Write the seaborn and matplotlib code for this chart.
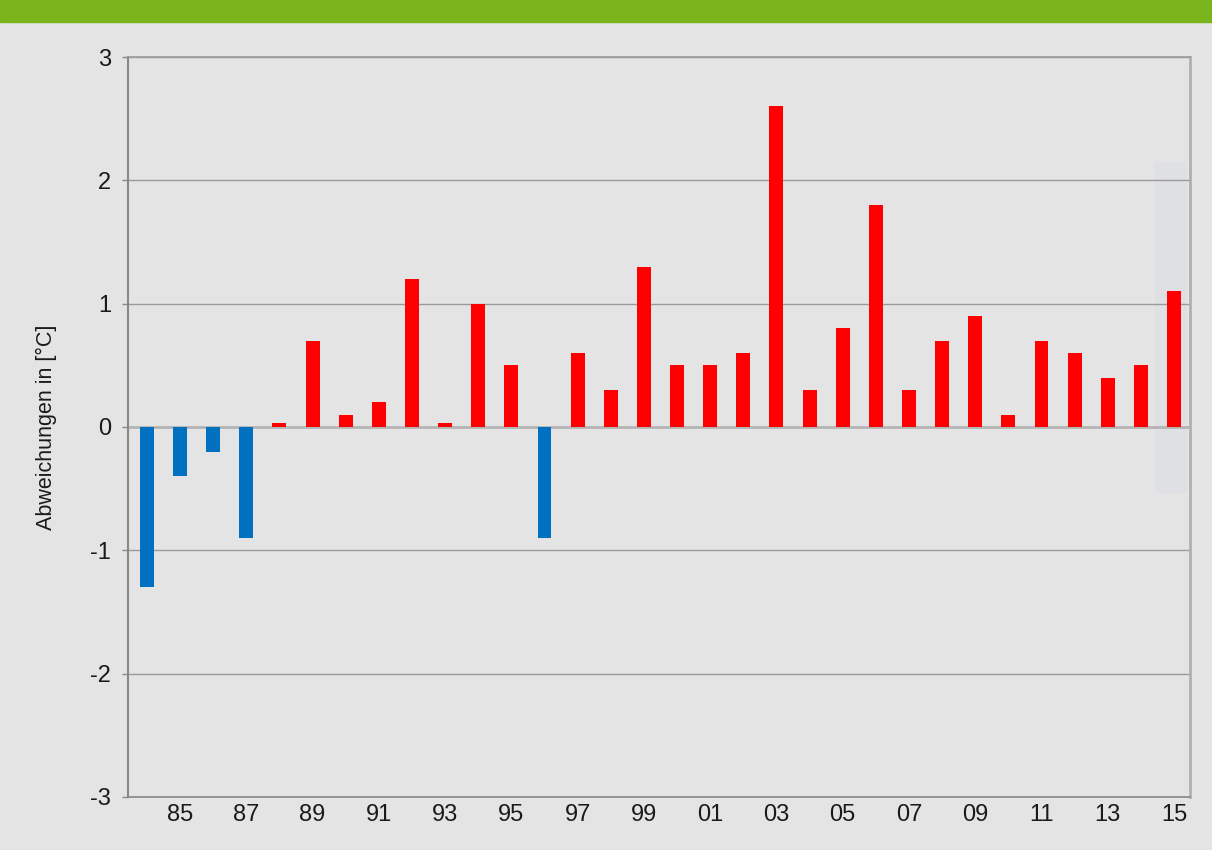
import matplotlib
matplotlib.use("Agg")
import matplotlib.pyplot as plt
from matplotlib.patches import Rectangle
import numpy as np
import pandas as pd
import seaborn as sns

# Jährliche Temperaturabweichungen 1984-2015
jahre = list(range(1984, 2016))
abweichungen = [-1.3, -0.4, -0.2, -0.9, 0.03, 0.7, 0.1, 0.2, 1.2, 0.03,
                1.0, 0.5, -0.9, 0.6, 0.3, 1.3, 0.5, 0.5, 0.6, 2.6,
                0.3, 0.8, 1.8, 0.3, 0.7, 0.9, 0.1, 0.7, 0.6, 0.4,
                0.5, 1.1]
y_ticks = [-3, -2, -1, 0, 1, 2, 3]

df = pd.DataFrame({
    "jahr": [f"{j % 100:02d}" for j in jahre],
    "wert": abweichungen,
})
df["vorzeichen"] = np.where(df["wert"] < 0, "kalt", "warm")

sns.set_style("white")
plt.rcParams["font.family"] = ["Liberation Sans", "DejaVu Sans"]

bg = "#e3e4e3"
fig = plt.figure(figsize=(12.12, 8.5), dpi=100, facecolor=bg)
ax = fig.add_axes([0.1056, 0.0624, 0.8762, 0.8705])
ax.set_facecolor(bg)

# grüner Balken am oberen Rand
fig.patches.append(Rectangle((0, 1 - 22 / 850), 1, 22 / 850,
                             transform=fig.transFigure, color="#7ab51d",
                             zorder=0))

# dezente Hervorhebung des letzten Jahres
ax.add_patch(Rectangle((30.43, -0.535), 0.96, 2.685, facecolor="#dfe0e3",
                       edgecolor="none", zorder=0.5))

for t in y_ticks:
    if t != 0:
        ax.axhline(t, color="#9a9a9a", lw=1.0, zorder=1)
ax.axhline(0, color="#b4b4b4", lw=2.0, zorder=1)

sns.barplot(data=df, x="jahr", y="wert", hue="vorzeichen",
            palette={"kalt": "#0070c0", "warm": "#ff0000"},
            dodge=False, width=0.42, legend=False, ax=ax, zorder=2,
            saturation=1, linewidth=0, edgecolor="none")

ax.set_xlim(-0.57, 31.48)
ax.set_ylim(-3, 3)
ax.set_yticks(y_ticks)
ax.set_yticklabels([str(t) for t in y_ticks], fontsize=17, color="#1a1a1a")
odd = list(range(1, len(jahre), 2))
ax.set_xticks(odd)
ax.set_xticklabels([df["jahr"][i] for i in odd], fontsize=17, color="#1a1a1a")
ax.tick_params(axis="y", length=4, width=1, color="#888888", pad=8, left=True)
ax.tick_params(axis="x", length=0, pad=5)
ax.set_xlabel("")
ax.set_ylabel("Abweichungen in [°C]", fontsize=15.5, color="#1a1a1a", labelpad=24)

ax.spines["left"].set_color("#888888")
ax.spines["left"].set_linewidth(1.5)
ax.spines["bottom"].set_color("#888888")
ax.spines["bottom"].set_linewidth(1.2)
ax.spines["top"].set_color("#9a9a9a")
ax.spines["top"].set_linewidth(1.2)
ax.spines["right"].set_color("#b0b0b0")
ax.spines["right"].set_linewidth(2)

fig.savefig("out.png", dpi=100, facecolor=bg)
